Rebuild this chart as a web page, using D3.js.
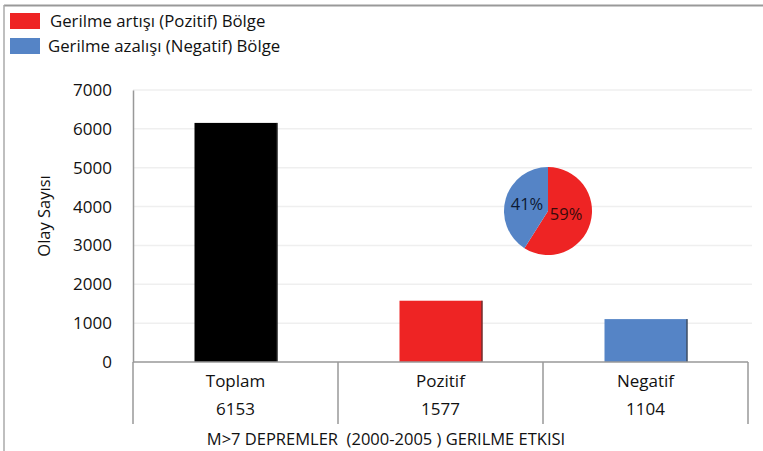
<!DOCTYPE html>
<html>
<head>
<meta charset="utf-8">
<script src="https://cdn.jsdelivr.net/npm/d3@7"></script>
<style>
  body { margin: 0; background: #fff; }
  svg { display: block; font-family: "Open Sans", sans-serif; }
</style>
</head>
<body>
<svg width="763" height="451"></svg>
<script>
// chart data
const categories = ["Toplam", "Pozitif", "Negatif"];
const counts = [6153, 1577, 1104];
const barColors = ["#000000", "#ee2424", "#5584c6"];
const yTicks = [0, 1000, 2000, 3000, 4000, 5000, 6000, 7000];
const pieLabels = ["59%", "41%"];
const pieValues = [59, 41];
const pieColors = ["#ee2424", "#5584c6"];
const legendItems = ["Gerilme artışı (Pozitif) Bölge", "Gerilme azalışı (Negatif) Bölge"];
const legendColors = ["#ee2424", "#5584c6"];
const xTitle = "M>7 DEPREMLER  (2000-2005 ) GERILME ETKISI";
const yTitle = "Olay Sayısı";

const margin = { top: 90, right: 15, bottom: 89, left: 133 };
const width = 763, height = 451;
const innerW = 748 - margin.left;   // plot runs from x=133 to x=748
const innerH = 362 - margin.top;

const svg = d3.select("svg");

// outer frame (only top and left edges show)
svg.append("line").attr("x1", 4).attr("x2", width).attr("y1", 5.5).attr("y2", 5.5)
  .attr("stroke", "#999").attr("stroke-width", 2);
svg.append("line").attr("x1", 4).attr("x2", 4).attr("y1", 5).attr("y2", height)
  .attr("stroke", "#aaa").attr("stroke-width", 1.5);

// legend
const leg = svg.append("g");
legendItems.forEach((t, i) => {
  leg.append("rect").attr("x", 10).attr("y", 13 + i * 25).attr("width", 30).attr("height", 16)
    .attr("fill", legendColors[i]);
  leg.append("text").attr("x", i == 0 ? 50 : 48).attr("y", 27 + i * 25)
    .attr("font-size", 16.8).attr("fill", "#111").text(t);
});

const g = svg.append("g").attr("transform", `translate(${margin.left},${margin.top})`);

const x = d3.scaleBand().domain(categories).range([0, innerW]).paddingInner(0).paddingOuter(0);
const y = d3.scaleLinear().domain([0, 7000]).range([innerH, 0]);

// faint gridlines
g.selectAll("line.grid").data(yTicks.slice(1)).enter().append("line")
  .attr("class", "grid")
  .attr("x1", 0).attr("x2", innerW + 4)
  .attr("y1", d => y(d)).attr("y2", d => y(d))
  .attr("stroke", "#efefef").attr("stroke-width", 1.5);

// y axis
const yAxis = g.append("g").call(d3.axisLeft(y).tickValues(yTicks).tickFormat(d3.format("d")).tickSize(0).tickPadding(21));
yAxis.select(".domain").attr("stroke", "#999").attr("stroke-width", 1.5);
yAxis.selectAll("text").attr("font-size", 17).attr("fill", "#111").attr("font-family", "Open Sans, sans-serif");

// y title
svg.append("text")
  .attr("transform", "translate(50,216) rotate(-90)")
  .attr("text-anchor", "middle").attr("font-size", 16.5).attr("fill", "#111")
  .text(yTitle);

// bars
const barW = 83;
g.selectAll("rect.bar").data(counts).enter().append("rect")
  .attr("class", "bar")
  .attr("x", (d, i) => x(categories[i]) + x.bandwidth() / 2 - barW / 2 + 0.5)
  .attr("y", d => y(d))
  .attr("width", barW)
  .attr("height", d => innerH - y(d))
  .attr("fill", (d, i) => barColors[i]);
g.selectAll("line.barEdge").data(counts).enter().append("line")
  .attr("x1", (d, i) => x(categories[i]) + x.bandwidth() / 2 + barW / 2)
  .attr("x2", (d, i) => x(categories[i]) + x.bandwidth() / 2 + barW / 2)
  .attr("y1", d => y(d)).attr("y2", innerH)
  .attr("stroke", "#333").attr("stroke-width", 1);

// x axis line and table
g.append("line").attr("x1", 0).attr("x2", innerW).attr("y1", innerH).attr("y2", innerH)
  .attr("stroke", "#999").attr("stroke-width", 1.5);
const bounds = categories.map(c => x(c)).concat([innerW]);
g.selectAll("line.sep").data(bounds).enter().append("line")
  .attr("x1", d => d).attr("x2", d => d)
  .attr("y1", innerH).attr("y2", innerH + 62)
  .attr("stroke", "#999").attr("stroke-width", 1.5);

g.selectAll("text.cat").data(categories).enter().append("text")
  .attr("x", d => x(d) + x.bandwidth() / 2)
  .attr("y", innerH + 25)
  .attr("text-anchor", "middle").attr("font-size", 17).attr("fill", "#111")
  .text(d => d);
g.selectAll("text.val").data(counts).enter().append("text")
  .attr("x", (d, i) => x(categories[i]) + x.bandwidth() / 2)
  .attr("y", innerH + 53)
  .attr("text-anchor", "middle").attr("font-size", 17).attr("fill", "#111")
  .text(d => d);

svg.append("text").attr("x", 386).attr("y", 445)
  .attr("text-anchor", "middle").attr("font-size", 16.5).attr("fill", "#111")
  .style("white-space", "pre")
  .text(xTitle);

// pie inset
const pieG = svg.append("g").attr("transform", "translate(548,211)");
const pie = d3.pie().sort(null)(pieValues);
const arc = d3.arc().innerRadius(0).outerRadius(44);
pieG.selectAll("path").data(pie).enter().append("path")
  .attr("d", arc).attr("fill", (d, i) => pieColors[i]);
const labelArc = d3.arc().innerRadius(24).outerRadius(24);
pieG.selectAll("text").data(pie).enter().append("text")
  .attr("transform", (d, i) => {
    const c = labelArc.centroid(d);
    return `translate(${c[0] + (i == 0 ? -5 : 2)},${i == 0 ? 9 : -1})`;
  })
  .attr("text-anchor", "middle").attr("font-size", 16.5)
  .attr("fill", (d, i) => i == 0 ? "#3a0a0a" : "#0d1a33")
  .text((d, i) => pieLabels[i]);
</script>
</body>
</html>
